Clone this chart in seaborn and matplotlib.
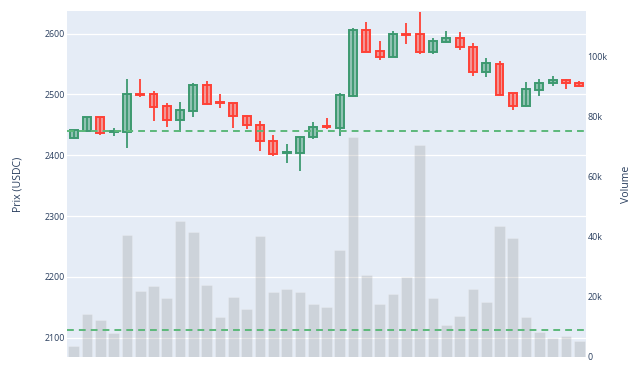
import numpy as np
import pandas as pd
import matplotlib
matplotlib.use('Agg')
import matplotlib.pyplot as plt
import matplotlib.colors as mcolors
import seaborn as sns

# OHLC + volume (39 periods)
opens = [2428, 2440, 2462, 2438, 2438, 2501, 2500, 2481, 2458, 2473,
         2515, 2487, 2485, 2465, 2450, 2424, 2403, 2404, 2430, 2448,
         2445, 2498, 2606, 2571, 2561, 2600, 2599, 2570, 2586, 2592,
         2578, 2536, 2550, 2502, 2481, 2507, 2518, 2523, 2519]
highs = [2442, 2463, 2463, 2444, 2525, 2525, 2506, 2486, 2488, 2518,
         2522, 2500, 2486, 2466, 2456, 2434, 2418, 2431, 2454, 2461,
         2502, 2609, 2619, 2588, 2604, 2617, 2636, 2593, 2604, 2603,
         2584, 2559, 2555, 2503, 2521, 2525, 2530, 2526, 2522]
lows = [2427, 2438, 2433, 2432, 2412, 2496, 2457, 2447, 2438, 2462,
        2482, 2478, 2445, 2443, 2407, 2399, 2387, 2374, 2426, 2443,
        2432, 2495, 2570, 2556, 2561, 2582, 2566, 2566, 2585, 2573,
        2530, 2528, 2498, 2474, 2480, 2498, 2513, 2509, 2512]
closes = [2441, 2462, 2437, 2440, 2500, 2499, 2480, 2458, 2475, 2516,
          2484, 2485, 2465, 2450, 2424, 2402, 2405, 2430, 2447, 2446,
          2499, 2606, 2570, 2561, 2600, 2598, 2570, 2587, 2592, 2578,
          2536, 2551, 2499, 2481, 2508, 2518, 2523, 2518, 2514]
volumes = [3700, 14200, 12200, 8100, 40800, 21900, 23800, 19800, 45300, 41700,
           24100, 13200, 20000, 15900, 40300, 21700, 22700, 21600, 17800, 16600,
           35700, 73400, 27300, 17700, 21100, 26700, 70700, 19600, 10700, 13600,
           22800, 18200, 43700, 39700, 13300, 8400, 6200, 6900, 5400]

resistance = 2439
support = 2112

price_ticks = [2100, 2200, 2300, 2400, 2500, 2600]
vol_ticks = [0, 20000, 40000, 60000, 80000, 100000]
vol_tick_labels = ['0', '20k', '40k', '60k', '80k', '100k']

df = pd.DataFrame({'open': opens, 'high': highs, 'low': lows,
                   'close': closes, 'volume': volumes})
df['up'] = df['close'] >= df['open']
n = len(df)

sns.set_theme(style='darkgrid', rc={
    'axes.facecolor': '#E5ECF6',
    'grid.color': 'white',
    'grid.linewidth': 0.9,
})
plt.rcParams['font.family'] = ['Open Sans', 'DejaVu Sans']
text_col = '#2a3f5f'

fig = plt.figure(figsize=(6.4, 3.67), dpi=100)
ax = fig.add_axes([67 / 640, 10 / 367, 519 / 640, 346 / 367])

# candles
GREEN, RED = '#3D9970', '#FF4136'
for up, col in [(True, GREEN), (False, RED)]:
    d = df[df['up'] == up]
    ax.vlines(d.index, d['low'], d['high'], color=col, lw=1.3, zorder=2)
    body = (d['close'] - d['open']).abs().clip(lower=0.8)
    ax.bar(d.index, body, bottom=d[['open', 'close']].min(axis=1), width=0.6,
           facecolor=mcolors.to_rgba(col, 0.5), edgecolor=col, linewidth=1.4,
           zorder=3)

ax.set_ylim(2068.3, 2637)
ax.set_yticks(price_ticks)
ax.grid(axis='x', visible=False)
ax.tick_params(axis='y', length=0, pad=1.5, labelsize=6.4, labelcolor=text_col)
ax.set_ylabel('Prix (USDC)', fontsize=7.6, color=text_col, labelpad=15)

# volume on secondary axis
ax_vol = ax.twinx()
sns.barplot(x=np.arange(n), y=df['volume'], ax=ax_vol, color='gray',
            saturation=1, alpha=0.23, width=0.8, edgecolor='white',
            linewidth=0.5, zorder=1)
ax_vol.grid(False)

# support / resistance levels (price units), drawn above the volume bars
for level in (resistance, support):
    ax_vol.plot([-0.5, n - 0.5], [level, level], transform=ax.transData,
                color='#5CB87A', lw=1.4, linestyle=(0, (3.5, 2.6)), zorder=4)

ax_vol.set_ylim(0, 115300)
ax_vol.set_yticks(vol_ticks)
ax_vol.set_yticklabels(vol_tick_labels)
ax_vol.tick_params(axis='y', length=0, pad=1, labelsize=6.4, labelcolor=text_col)
ax_vol.set_ylabel('Volume', fontsize=7.6, color=text_col, labelpad=10)

for a in (ax, ax_vol):
    a.set_xlim(-0.5, n - 0.5)
    a.set_xticks([])
    a.set_xlabel('')
    for s in a.spines.values():
        s.set_visible(False)

fig.savefig('out.png', dpi=100)
